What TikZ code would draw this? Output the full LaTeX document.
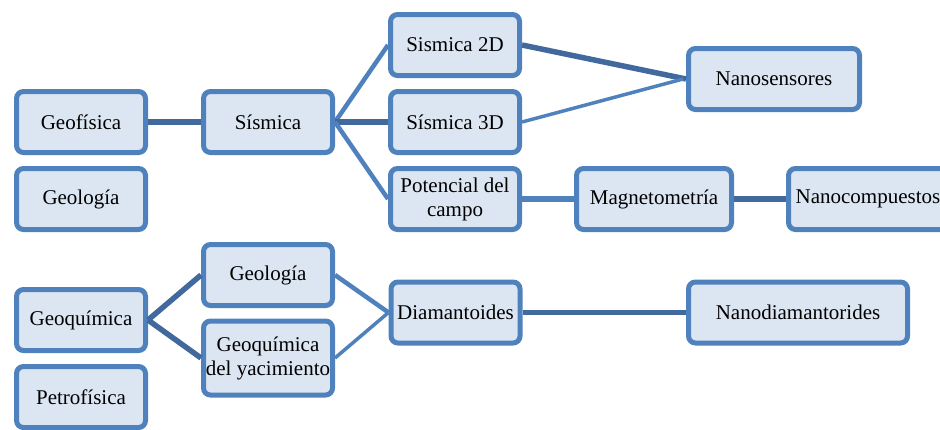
\documentclass[tikz,border=0pt]{standalone}
\usepackage{fontspec}
\setmainfont{Liberation Serif}
\definecolor{cajaborde}{HTML}{4F81BD}
\definecolor{cajafondo}{HTML}{DCE6F2}
\definecolor{enlaceazul}{HTML}{41699E}
\tikzset{
	caja/.style={draw=cajaborde, fill=cajafondo, line width=5pt, rounded corners=7pt,
		minimum width=129pt, minimum height=61pt, inner sep=2pt, align=center,
		font=\fontsize{21}{24}\selectfont},
	enlace/.style={draw=enlaceazul, line width=5.5pt},
	enlaceclaro/.style={draw=cajaborde, line width=4.5pt},
	enlacefino/.style={draw=cajaborde, line width=3.5pt}
}
\begin{document}
\begin{tikzpicture}[x=1pt,y=-1pt]
	\useasboundingbox (0,0) rectangle (940,429);
	\clip (0,0) rectangle (940,429);

	\node[caja] (geofisica) at (81,122) {Geofísica};
	\node[caja] (geologiaA) at (81,199) {Geología};
	\node[caja] (sismica) at (268,122) {Sísmica};
	\node[caja] (sismicaDD) at (455,45) {Sismica 2D};
	\node[caja] (sismicaTD) at (455,122) {Sísmica 3D};
	\node[caja] (potencial) at (455,199) {Potencial del\\campo};
	\node[caja, minimum width=171pt] (nanosensores) at (774,79) {Nanosensores};
	\node[caja, minimum width=155pt] (magneto) at (654,199) {Magnetometría};
	\node[caja, minimum width=159pt] (nanocomp) at (868,199) {Nanocompuestos};

	\node[caja] (geoquimica) at (81,320) {Geoquímica};
	\node[caja] (petrofisica) at (81,397) {Petrofísica};
	\node[caja] (geologiaB) at (268,275) {Geología};
	\node[caja, minimum height=74pt] (yacimiento) at (268,358)
		{Geoquímica\\del yacimiento};
	\node[caja] (diamantoides) at (455.5,312.5) {Diamantoides};
	\node[caja, minimum width=219pt] (nanodiam) at (798,312.5) {Nanodiamantorides};

	% sismica
	\draw[enlace] (geofisica) -- (sismica);
	\draw[enlaceclaro] (sismica.east) -- (sismicaDD.west);
	\draw[enlace] (sismica.east) -- (sismicaTD.west);
	\draw[enlaceclaro] (sismica.east) -- (potencial.west);
	\draw[enlace] (sismicaDD.east) -- (nanosensores.west);
	\draw[enlacefino] (sismicaTD.east) -- ([xshift=-3pt]nanosensores.west);
	\draw[enlaceclaro, line width=5.5pt] (potencial) -- (magneto);
	\draw[enlace] (magneto) -- (nanocomp);

	% geoquimica
	\draw[enlace] (geoquimica.east) -- (geologiaB.west);
	\draw[enlace] (geoquimica.east) -- (yacimiento.west);
	\draw[enlaceclaro] (geologiaB.east) -- (diamantoides.west);
	\draw[enlacefino] (yacimiento.east) -- (diamantoides.west);
	\draw[enlace, line width=4.5pt] (diamantoides) -- (nanodiam);
\end{tikzpicture}
\end{document}
